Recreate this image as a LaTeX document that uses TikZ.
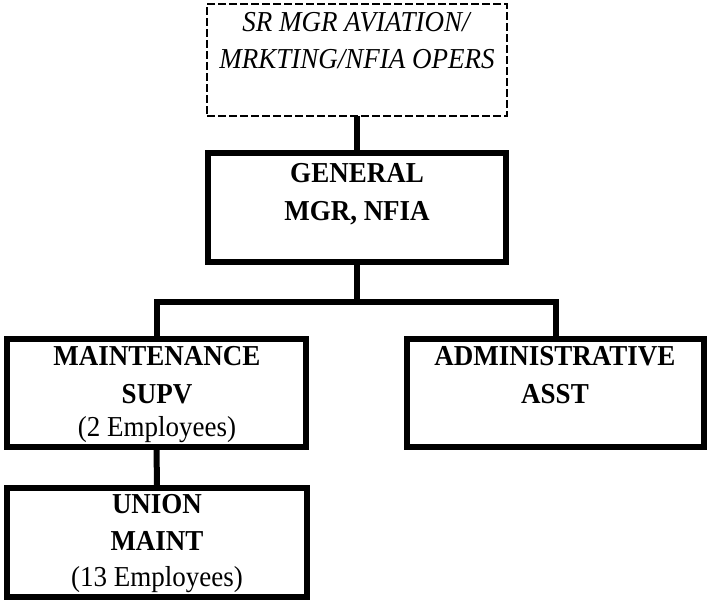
\documentclass[tikz,border=0pt]{standalone}
\usepackage{graphicx}
\usepackage{fontspec}
\setmainfont{Liberation Serif}
% text is set slightly tall: 27pt type stretched vertically
\newcommand{\tallText}[1]{\scalebox{1}[1.07]{#1}}
\begin{document}
\begin{tikzpicture}[x=1pt,y=-1pt,
  box/.style={draw=black, line width=6pt, rectangle, inner sep=0pt, outer sep=0pt},
  dashbox/.style={draw=black, line width=2.6pt, dash pattern=on 8pt off 3pt, rectangle, inner sep=0pt, outer sep=0pt},
  link/.style={draw=black, line width=6pt},
  ln/.style={anchor=base, inner sep=0pt, font=\fontsize{27}{31}\selectfont},
  lb/.style={ln, font=\fontsize{27}{31}\selectfont\bfseries},
  li/.style={ln, font=\fontsize{27}{31}\selectfont\itshape}]
\useasboundingbox (0,0) rectangle (708,602);

% boxes
\node[dashbox, minimum width=300pt, minimum height=112pt] (sr) at (357,60) {};
\node[box, minimum width=298pt, minimum height=109pt] (gm) at (357,207.5) {};
\node[box, minimum width=299pt, minimum height=108pt] (ms) at (156.5,393) {};
\node[box, minimum width=297pt, minimum height=108pt] (ad) at (555.5,393) {};
\node[box, minimum width=300pt, minimum height=109pt] (un) at (157,542.5) {};

% connectors
\coordinate (bar) at (357,302);
\draw[link] (sr.south) -- (gm.north);
\draw[link] (gm.south) -- (bar);
\draw[link] (bar) -| (ms.north);
\draw[link] (bar) -| (ad.north);
\draw[link] (ms.south) -- (un.north);

% texts
\node[li] (sr1) at (356,32) {\tallText{SR MGR AVIATION/}};
\node[li] (sr2) at (357,68) {\tallText{MRKTING/NFIA OPERS}};

\node[lb] (gm1) at (357,182) {\tallText{GENERAL}};
\node[lb] (gm2) at (357,220) {\tallText{MGR, NFIA}};

\node[lb] (ms1) at (157,365) {\tallText{MAINTENANCE}};
\node[lb] (ms2) at (157,403) {\tallText{SUPV}};
\node[ln] (ms3) at (157,436) {\tallText{(2 Employees)}};

\node[lb] (ad1) at (555,365) {\tallText{ADMINISTRATIVE}};
\node[lb] (ad2) at (555,403) {\tallText{ASST}};

\node[lb] (un1) at (157,513) {\tallText{UNION}};
\node[lb] (un2) at (157,550) {\tallText{MAINT}};
\node[ln] (un3) at (157,586) {\tallText{(13 Employees)}};
\end{tikzpicture}
\end{document}
